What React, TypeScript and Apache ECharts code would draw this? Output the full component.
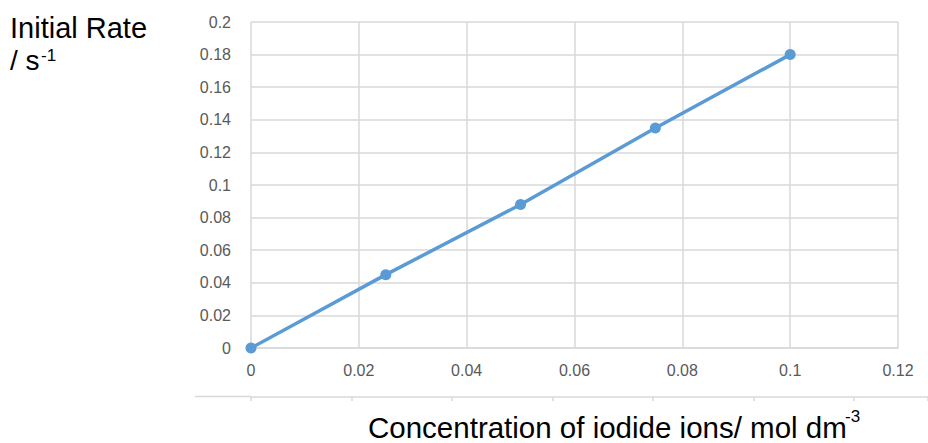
import React, { useEffect, useRef } from "react";
import * as echarts from "echarts";

const concentration = [0, 0.025, 0.05, 0.075, 0.1];
const initialRate = [0, 0.045, 0.088, 0.135, 0.18];
const xTicks = { min: 0, max: 0.12, interval: 0.02 };
const yTicks = { min: 0, max: 0.2, interval: 0.02 };
const yTitleLine1 = "Initial Rate";
const yTitleLine2 = "/ s";
const yTitleSup = "-1";
const xTitle = "Concentration of iodide ions/ mol dm";
const xTitleSup = "-3";

const FONT = "Liberation Sans, Arial, sans-serif";
const LABEL = "#595959";
const GRID = "#d9d9d9";
const BLUE = "#5b9bd5";

export default function App() {
  const ref = useRef<HTMLDivElement>(null);
  useEffect(() => {
    if (!ref.current) return;
    const chart = echarts.init(ref.current, null, { renderer: "svg" });
    const points = concentration.map((x, i) => [x, initialRate[i]]);
    chart.setOption({
      animation: false,
      backgroundColor: "#ffffff",
      grid: [
        { left: 251, top: 22, width: 647, height: 326 },
        { left: 251, top: 396, width: 677, height: 1 },
      ],
      xAxis: [
        {
          type: "value",
          gridIndex: 0,
          min: xTicks.min,
          max: xTicks.max,
          interval: xTicks.interval,
          axisLine: { show: true, lineStyle: { color: GRID, width: 1.5 } },
          axisTick: { show: false },
          splitLine: { show: true, lineStyle: { color: GRID, width: 1.5 } },
          axisLabel: { color: LABEL, fontSize: 16, fontFamily: FONT, margin: 14 },
        },
        {
          type: "value",
          gridIndex: 1,
          min: 0,
          max: 6.736,
          interval: 1,
          axisLine: { show: true, lineStyle: { color: GRID, width: 1.5 } },
          axisTick: { show: true, length: 4, lineStyle: { color: GRID, width: 1.5 } },
          splitLine: { show: false },
          axisLabel: { show: false },
        },
      ],
      yAxis: [
        {
          type: "value",
          gridIndex: 0,
          min: yTicks.min,
          max: yTicks.max,
          interval: yTicks.interval,
          axisLine: { show: false },
          axisTick: { show: false },
          splitLine: { show: true, lineStyle: { color: GRID, width: 1.5 } },
          axisLabel: { color: LABEL, fontSize: 16, fontFamily: FONT, margin: 20 },
        },
        {
          type: "value",
          gridIndex: 1,
          show: false,
        },
      ],
      graphic: [
        {
          type: "line",
          shape: { x1: 195, y1: 396.5, x2: 251, y2: 396.5 },
          style: { stroke: GRID, lineWidth: 1.5 },
        },
        {
          type: "text",
          x: 10,
          y: 13,
          style: { text: yTitleLine1, font: `29px ${FONT}`, fill: "#000", textVerticalAlign: "top" },
        },
        {
          type: "text",
          x: 10,
          y: 46,
          style: { text: yTitleLine2, font: `28px ${FONT}`, fill: "#000", textVerticalAlign: "top" },
        },
        {
          type: "text",
          x: 41,
          y: 47,
          style: { text: yTitleSup, font: `17px ${FONT}`, fill: "#000", textVerticalAlign: "top" },
        },
        {
          type: "text",
          x: 368,
          y: 412,
          style: { text: xTitle, font: `29.5px ${FONT}`, fill: "#000", textVerticalAlign: "top" },
        },
        {
          type: "text",
          x: 845,
          y: 408,
          style: { text: xTitleSup, font: `17px ${FONT}`, fill: "#000", textVerticalAlign: "top" },
        },
      ],
      series: [
        {
          type: "line",
          xAxisIndex: 0,
          yAxisIndex: 0,
          data: points,
          symbol: "circle",
          symbolSize: 11,
          lineStyle: { color: BLUE, width: 3.5 },
          itemStyle: { color: BLUE },
        },
      ],
    });
    return () => chart.dispose();
  }, []);
  return (
    <div
      ref={ref}
      style={{ position: "absolute", left: 0, top: 0, width: 928, height: 443 }}
    />
  );
}
